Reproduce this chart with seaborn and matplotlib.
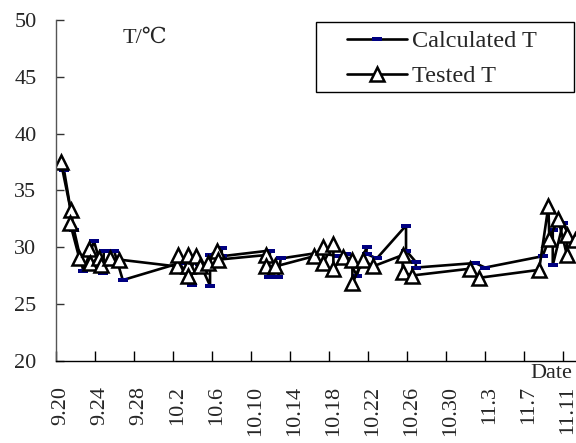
import matplotlib
matplotlib.use("Agg")
import matplotlib.pyplot as plt
from matplotlib.patches import Rectangle
import seaborn as sns

sns.set_style("white")
plt.rcParams["font.family"] = ["Liberation Serif", "DejaVu Serif", "Noto Sans CJK SC"]

# x values are days after 9.20
date_labels = ["9.20", "9.24", "9.28", "10.2", "10.6", "10.10", "10.14",
               "10.18", "10.22", "10.26", "10.30", "11.3", "11.7", "11.11"]
date_pos = [0, 4, 8, 12, 16, 20, 24, 28, 32, 36, 40, 44, 48, 52]
y_ticks = [20, 25, 30, 35, 40, 45, 50]

tested_day = [0, 1.0, 0.95, 1.9, 2.9, 3.0, 3.95, 4.1, 5.0, 6.0,
              11.9, 12.0, 13.05, 13.05, 13.05, 13.9, 14.25, 15.1, 16.0, 16.15,
              21.0, 21.0, 22.0,
              25.95, 26.9, 26.9, 27.95, 27.95, 28.9, 29.9, 29.9, 30.95, 32.0,
              35.05, 35.05, 36.0, 41.95, 42.9,
              49.05, 50.0, 50.1, 51.0, 51.9, 51.95, 52.7]
tested_t = [37.5, 33.3, 32.1, 29.0, 29.8, 28.6, 29.0, 28.4, 29.0, 28.9,
            28.3, 29.3, 28.3, 29.3, 27.5, 29.2, 28.3, 28.6, 29.7, 28.9,
            29.3, 28.3, 28.3,
            29.2, 30.0, 28.6, 30.3, 28.1, 29.1, 28.9, 26.8, 28.9, 28.3,
            29.3, 27.8, 27.5, 28.1, 27.3,
            28.0, 33.6, 30.7, 32.5, 29.3, 31.1, 30.6]

calc_day = [0.32, 1.35, 2.3, 3.4, 4.35, 4.4, 5.45, 6.35,
            12.2, 13.4, 13.45, 14.3, 15.3, 15.3, 16.5, 16.5,
            21.45, 21.3, 22.3, 22.55,
            26.4, 28.45, 29.2, 30.35, 31.35, 31.35, 32.4,
            35.4, 35.4, 36.4, 36.4, 42.5, 43.5,
            49.4, 50.45, 50.45, 51.5, 52.4]
calc_t = [36.8, 31.5, 27.9, 30.5, 27.7, 29.7, 29.7, 27.1,
          28.6, 26.7, 29.0, 28.5, 26.6, 29.3, 29.9, 29.2,
          29.7, 27.4, 27.4, 29.0,
          29.5, 29.2, 29.4, 27.5, 30.0, 29.4, 29.0,
          31.9, 29.7, 28.7, 28.2, 28.6, 28.2,
          29.2, 31.5, 28.4, 32.1, 30.5]

fig = plt.figure(figsize=(5.76, 4.43), dpi=100)
ax = fig.add_axes([56 / 576, 1 - 360.7 / 443, 56.5 * 9.75 / 576, 340.7 / 443])

rect = [(-1, -0.5), (1, -0.5), (1, 0.5), (-1, 0.5), (-1, -0.5)]
sns.lineplot(x=calc_day, y=calc_t, sort=False, estimator=None, ax=ax,
             color="black", linewidth=1.9, marker=rect, markersize=6.5,
             markerfacecolor="#000080", markeredgecolor="#000080",
             markeredgewidth=0, label="Calculated T")
sns.lineplot(x=tested_day, y=tested_t, sort=False, estimator=None, ax=ax,
             color="black", linewidth=1.9, marker="^", markersize=10,
             markerfacecolor="white", markeredgecolor="black",
             markeredgewidth=1.8, label="Tested T")

ax.set_xlim(-0.5, 56)
ax.set_ylim(20, 50)
ax.set_yticks(y_ticks)
ax.set_xticks([p - 0.5 for p in date_pos] + [55.5])
ax.set_xticklabels([])
ax.set_xticks(date_pos, minor=True)
ax.set_xticklabels(date_labels, minor=True, rotation=90)
ax.tick_params(axis="x", which="major", direction="in", length=7, width=1,
               color="black", bottom=True)
ax.tick_params(axis="x", which="minor", length=0, pad=18, labelsize=16)
ax.tick_params(axis="y", direction="in", length=6, width=1, color="#333333",
               left=True, pad=14, labelsize=16)
ax.set_xlabel("")
ax.set_ylabel("")
for s in ["top", "right"]:
    ax.spines[s].set_visible(False)
ax.spines["left"].set_color("#555555")
ax.spines["bottom"].set_color("black")
ax.spines["left"].set_linewidth(1)
ax.spines["bottom"].set_linewidth(1)

leg = ax.legend(loc="upper left", bbox_to_anchor=(346.7 / 576, 1 - 30 / 443),
                bbox_transform=fig.transFigure, frameon=False, fontsize=17.5,
                handlelength=2.5, handletextpad=0.2, borderpad=0,
                borderaxespad=0, labelspacing=0.55)
fig.patches.append(Rectangle((315.7 / 576, 1 - 92 / 443), 258 / 576, 70 / 443,
                             transform=fig.transFigure, fill=False,
                             edgecolor="black", linewidth=1))

fig.text(123 / 576, 1 - 43 / 443, "T/℃", fontsize=16, va="baseline")
fig.text(530 / 576, 1 - 378 / 443, "Date", fontsize=16, va="baseline")

fig.savefig("out.png", dpi=100)
